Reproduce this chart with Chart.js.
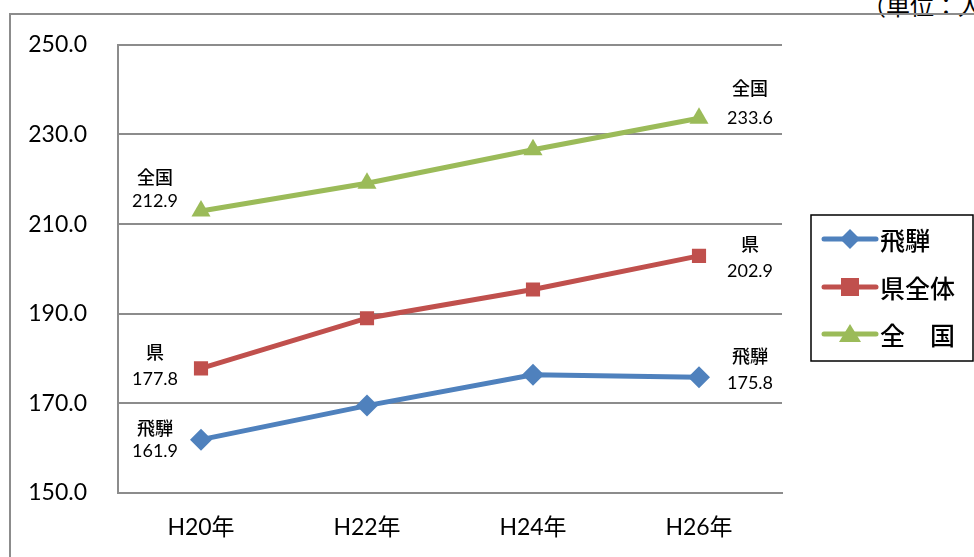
<!DOCTYPE html>
<html>
<head>
<meta charset="utf-8">
<script src="https://cdn.jsdelivr.net/npm/chart.js@4"></script>
<style>
  html, body { margin: 0; padding: 0; background: #fff; overflow: hidden; }
  #wrap { position: relative; width: 974px; height: 557px; overflow: hidden; }
  #frame { position: absolute; left: 9px; top: 13px; width: 1000px; height: 600px; border: 2px solid #8c8c8c; box-sizing: border-box; }
  #unit { position: absolute; left: 862px; top: -13px; line-height: 24px; white-space: nowrap; font: 24px 'Noto Sans CJK JP', sans-serif; color: #000; }
  canvas { position: absolute; left: 0; top: 0; }
</style>
</head>
<body>
<div id="wrap">
  <div id="unit">（単位：人）</div>
  <div id="frame"></div>
  <canvas id="chart" width="974" height="557"></canvas>
</div>
<script>
// --- Data ---
const years = ['H20年', 'H22年', 'H24年', 'H26年'];
const hida = [161.9, 169.5, 176.4, 175.8];
const ken = [177.8, 189.0, 195.4, 202.9];
const zenkoku = [212.9, 219.1, 226.6, 233.6];
const seriesNames = ['飛騨', '県全体', '全　国'];
const pointNames = ['飛騨', '県', '全国'];

const FONT = "Lato, 'Noto Sans CJK JP', sans-serif";

// label offsets (first point / last point): [dx, dyName, dyValue]
const labelPos = [
    { first: [-46, -12, 12], last: [51, -21, 6] },
    { first: [-46, -16, 11], last: [51, -12, 15] },
    { first: [-46, -34, -10], last: [51, -30, 0] }
];

// --- Endpoint labels ---
const endLabels = {
    id: 'endLabels',
    afterDatasetsDraw(chart) {
        const c = chart.ctx;
        c.save();
        c.fillStyle = '#000';
        c.textAlign = 'center';
        c.textBaseline = 'middle';
        chart.data.datasets.forEach(function (ds, i) {
            const pts = chart.getDatasetMeta(i).data;
            const ends = [[pts[0], labelPos[i].first, ds.data[0]], [pts[pts.length - 1], labelPos[i].last, ds.data[ds.data.length - 1]]];
            ends.forEach(function (e) {
                const p = e[0], o = e[1];
                c.font = "500 18px 'Noto Sans CJK JP', sans-serif";
                c.fillText(pointNames[i], p.x + o[0], p.y + o[1]);
                c.font = '18px ' + FONT;
                c.fillText(e[2].toFixed(1), p.x + o[0], p.y + o[2]);
            });
        });
        c.restore();
    }
};

// --- Legend box ---
const legendBox = {
    id: 'legendBox',
    afterDraw(chart) {
        const c = chart.ctx;
        const x = 811, y = 215, w = 162, h = 146;
        c.save();
        c.fillStyle = '#fff';
        c.fillRect(x, y, w, h);
        c.strokeStyle = '#000';
        c.lineWidth = 1.5;
        c.strokeRect(x, y, w, h);
        const rows = [239, 287, 334];
        chart.data.datasets.forEach(function (ds, i) {
            const ly = rows[i];
            c.strokeStyle = ds.borderColor;
            c.lineWidth = 5;
            c.lineCap = 'round';
            c.beginPath();
            c.moveTo(824, ly);
            c.lineTo(876, ly);
            c.stroke();
            c.fillStyle = ds.backgroundColor;
            c.beginPath();
            if (i === 0) {
                c.moveTo(850, ly - 10); c.lineTo(860, ly); c.lineTo(850, ly + 10); c.lineTo(840, ly);
            } else if (i === 1) {
                c.rect(841, ly - 9, 18, 18);
            } else {
                c.moveTo(850, ly - 10); c.lineTo(861, ly + 8); c.lineTo(839, ly + 8);
            }
            c.closePath();
            c.fill();
            c.fillStyle = '#000';
            c.font = "500 25px 'Noto Sans CJK JP', sans-serif";
            c.textAlign = 'left';
            c.textBaseline = 'middle';
            c.fillText(seriesNames[i], 880, ly + 1);
        });
        c.restore();
    }
};

const ctx = document.getElementById('chart').getContext('2d');
new Chart(ctx, {
    type: 'line',
    data: {
        labels: years,
        datasets: [
            { label: seriesNames[0], data: hida, borderColor: '#4F81BD', backgroundColor: '#4F81BD', pointStyle: 'rectRot', pointRadius: 11 },
            { label: seriesNames[1], data: ken, borderColor: '#C0504D', backgroundColor: '#C0504D', pointStyle: 'rect', pointRadius: 10 },
            { label: seriesNames[2], data: zenkoku, borderColor: '#9BBB59', backgroundColor: '#9BBB59', pointStyle: 'triangle', pointRadius: 11 }
        ].map(function (d) {
            return Object.assign(d, { borderWidth: 5, tension: 0, pointBorderWidth: 0, pointHoverRadius: d.pointRadius });
        })
    },
    options: {
        responsive: false,
        animation: false,
        layout: { padding: { top: 43, right: 192, left: 0, bottom: 0 } },
        plugins: { legend: { display: false }, tooltip: { enabled: false } },
        scales: {
            x: {
                offset: true,
                grid: { display: false, drawTicks: false },
                border: { display: true, color: '#8c8c8c', width: 2 },
                ticks: { color: '#000', padding: 21, font: { family: FONT, size: 23 } },
                afterFit: function (s) { s.height = 64; }
            },
            y: {
                min: 150, max: 250,
                grid: { color: '#8c8c8c', lineWidth: 2, drawTicks: false },
                border: { display: true, color: '#8c8c8c', width: 2 },
                ticks: {
                    stepSize: 20, color: '#000', padding: 31,
                    font: { family: FONT, size: 23 },
                    callback: function (v) { return v.toFixed(1); }
                },
                afterFit: function (s) { s.width = 118; }
            }
        }
    },
    plugins: [endLabels, legendBox]
});
</script>
</body>
</html>
